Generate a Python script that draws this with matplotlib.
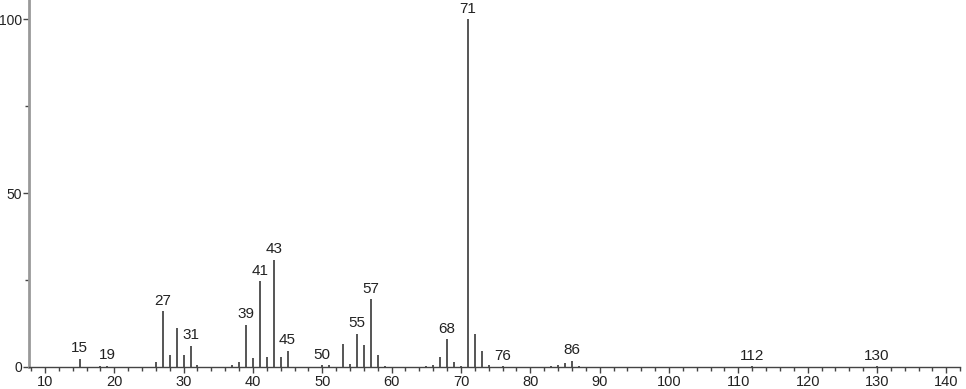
import matplotlib
matplotlib.use("Agg")
from matplotlib import pyplot as plt
from matplotlib.ticker import MultipleLocator

plt.rcParams['font.family'] = ['Liberation Sans', 'DejaVu Sans']

# 质谱数据 m/z 与相对丰度
mz = [15, 18, 19, 26, 27, 28, 29, 30, 31, 32, 37, 38, 39, 40, 41, 42, 43, 44, 45,
      50, 51, 53, 54, 55, 56, 57, 58, 59, 65, 66, 67, 68, 69, 70, 71, 72, 73, 74,
      76, 83, 84, 85, 86, 87, 112, 130]
intensity = [2.4, 0.4, 0.3, 1.3, 16.0, 3.4, 11.2, 3.4, 6.1, 0.5, 0.7, 1.3, 12.2, 2.5,
             24.6, 2.9, 30.8, 2.8, 4.7, 0.5, 0.5, 6.7, 1.0, 9.5, 6.4, 19.5, 3.4, 0.3,
             0.3, 0.5, 2.8, 8.0, 1.3, 0.4, 100, 9.5, 4.7, 0.5, 0.2, 0.3, 0.5, 1.2,
             1.8, 0.4, 0.2, 0.2]
labeled = [15, 19, 27, 31, 39, 41, 43, 45, 50, 55, 57, 68, 71, 76, 86, 112, 130]

fig = plt.figure(figsize=(9.66, 3.89), dpi=100)
ax = fig.add_axes([0.030, 0.0566, 0.964, 0.9434])

ax.vlines(mz, 0, intensity, colors="#555555", linewidth=1.4)
for m, v in zip(mz, intensity):
    if m in labeled:
        ax.annotate(str(m), (m, v), xytext=(0, 2.5), textcoords="offset points",
                    ha="center", va="bottom", fontsize=11, color="#222222")

ax.set_xlim(7.7, 142)
ax.set_ylim(0, 105.5)
ax.xaxis.set_major_locator(MultipleLocator(10))
ax.xaxis.set_minor_locator(MultipleLocator(2))
ax.yaxis.set_major_locator(MultipleLocator(50))
ax.yaxis.set_minor_locator(MultipleLocator(25))

for s in ["top", "right"]:
    ax.spines[s].set_visible(False)
ax.spines["left"].set_color("#999999")
ax.spines["left"].set_linewidth(2)
ax.spines["bottom"].set_color("#444444")
ax.spines["bottom"].set_linewidth(1)

ax.tick_params(axis="x", which="major", length=4, width=1, color="#444444",
               labelsize=10.5, labelcolor="#222222", pad=1.5)
ax.tick_params(axis="y", which="major", length=4, width=1, color="#444444",
               labelsize=10, labelcolor="#222222", pad=1)
ax.tick_params(axis="both", which="minor", length=3, width=1, color="#444444")

plt.savefig("out.png", dpi=100)
